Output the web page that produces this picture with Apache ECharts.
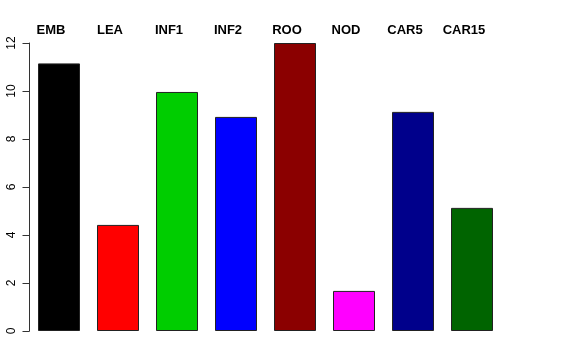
<!DOCTYPE html>
<html><head><meta charset="utf-8">
<script src="https://cdn.jsdelivr.net/npm/echarts@6/dist/echarts.min.js"></script>
<style>html,body{margin:0;padding:0;background:#fff}#c{width:576px;height:360px}</style>
</head><body><div id="c"></div>
<script>
var categories = ["EMB","LEA","INF1","INF2","ROO","NOD","CAR5","CAR15"];
var values = [11.15, 4.42, 9.96, 8.92, 12.0, 1.67, 9.13, 5.13];
var barColors = ["#000000","#FF0000","#00CD00","#0000FF","#8B0000","#FF00FF","#00008B","#006400"];
var yTicks = [0,2,4,6,8,10,12];

var chart = echarts.init(document.getElementById('c'), null, {renderer:'canvas'});
chart.setOption({
  animation:false,
  backgroundColor:'#fff',
  grid:{left:29.5, right:74.5, top:43, bottom:29, containLabel:false},
  xAxis:{type:'category', data:categories, position:'top',
    axisLine:{show:false}, axisTick:{show:false},
    axisLabel:{fontFamily:'Liberation Sans, Arial, sans-serif', fontWeight:'bold', fontSize:13, color:'#000', margin:6, padding:[0,16,0,0], interval:0}},
  yAxis:{type:'value', min:yTicks[0], max:yTicks[yTicks.length-1], interval:2,
    splitLine:{show:false},
    axisLine:{show:true, lineStyle:{color:'#333', width:1}},
    axisTick:{show:true, length:7, lineStyle:{color:'#333'}},
    axisLabel:{rotate:90, fontFamily:'Liberation Sans, Arial, sans-serif', fontSize:12, color:'#000', margin:12}},
  series:[{type:'bar', barWidth:42,
    data: values.map(function(v,i){return {value:v, itemStyle:{color:barColors[i]}};}),
    itemStyle:{borderColor:'#222', borderWidth:1}}]
});
</script></body></html>
